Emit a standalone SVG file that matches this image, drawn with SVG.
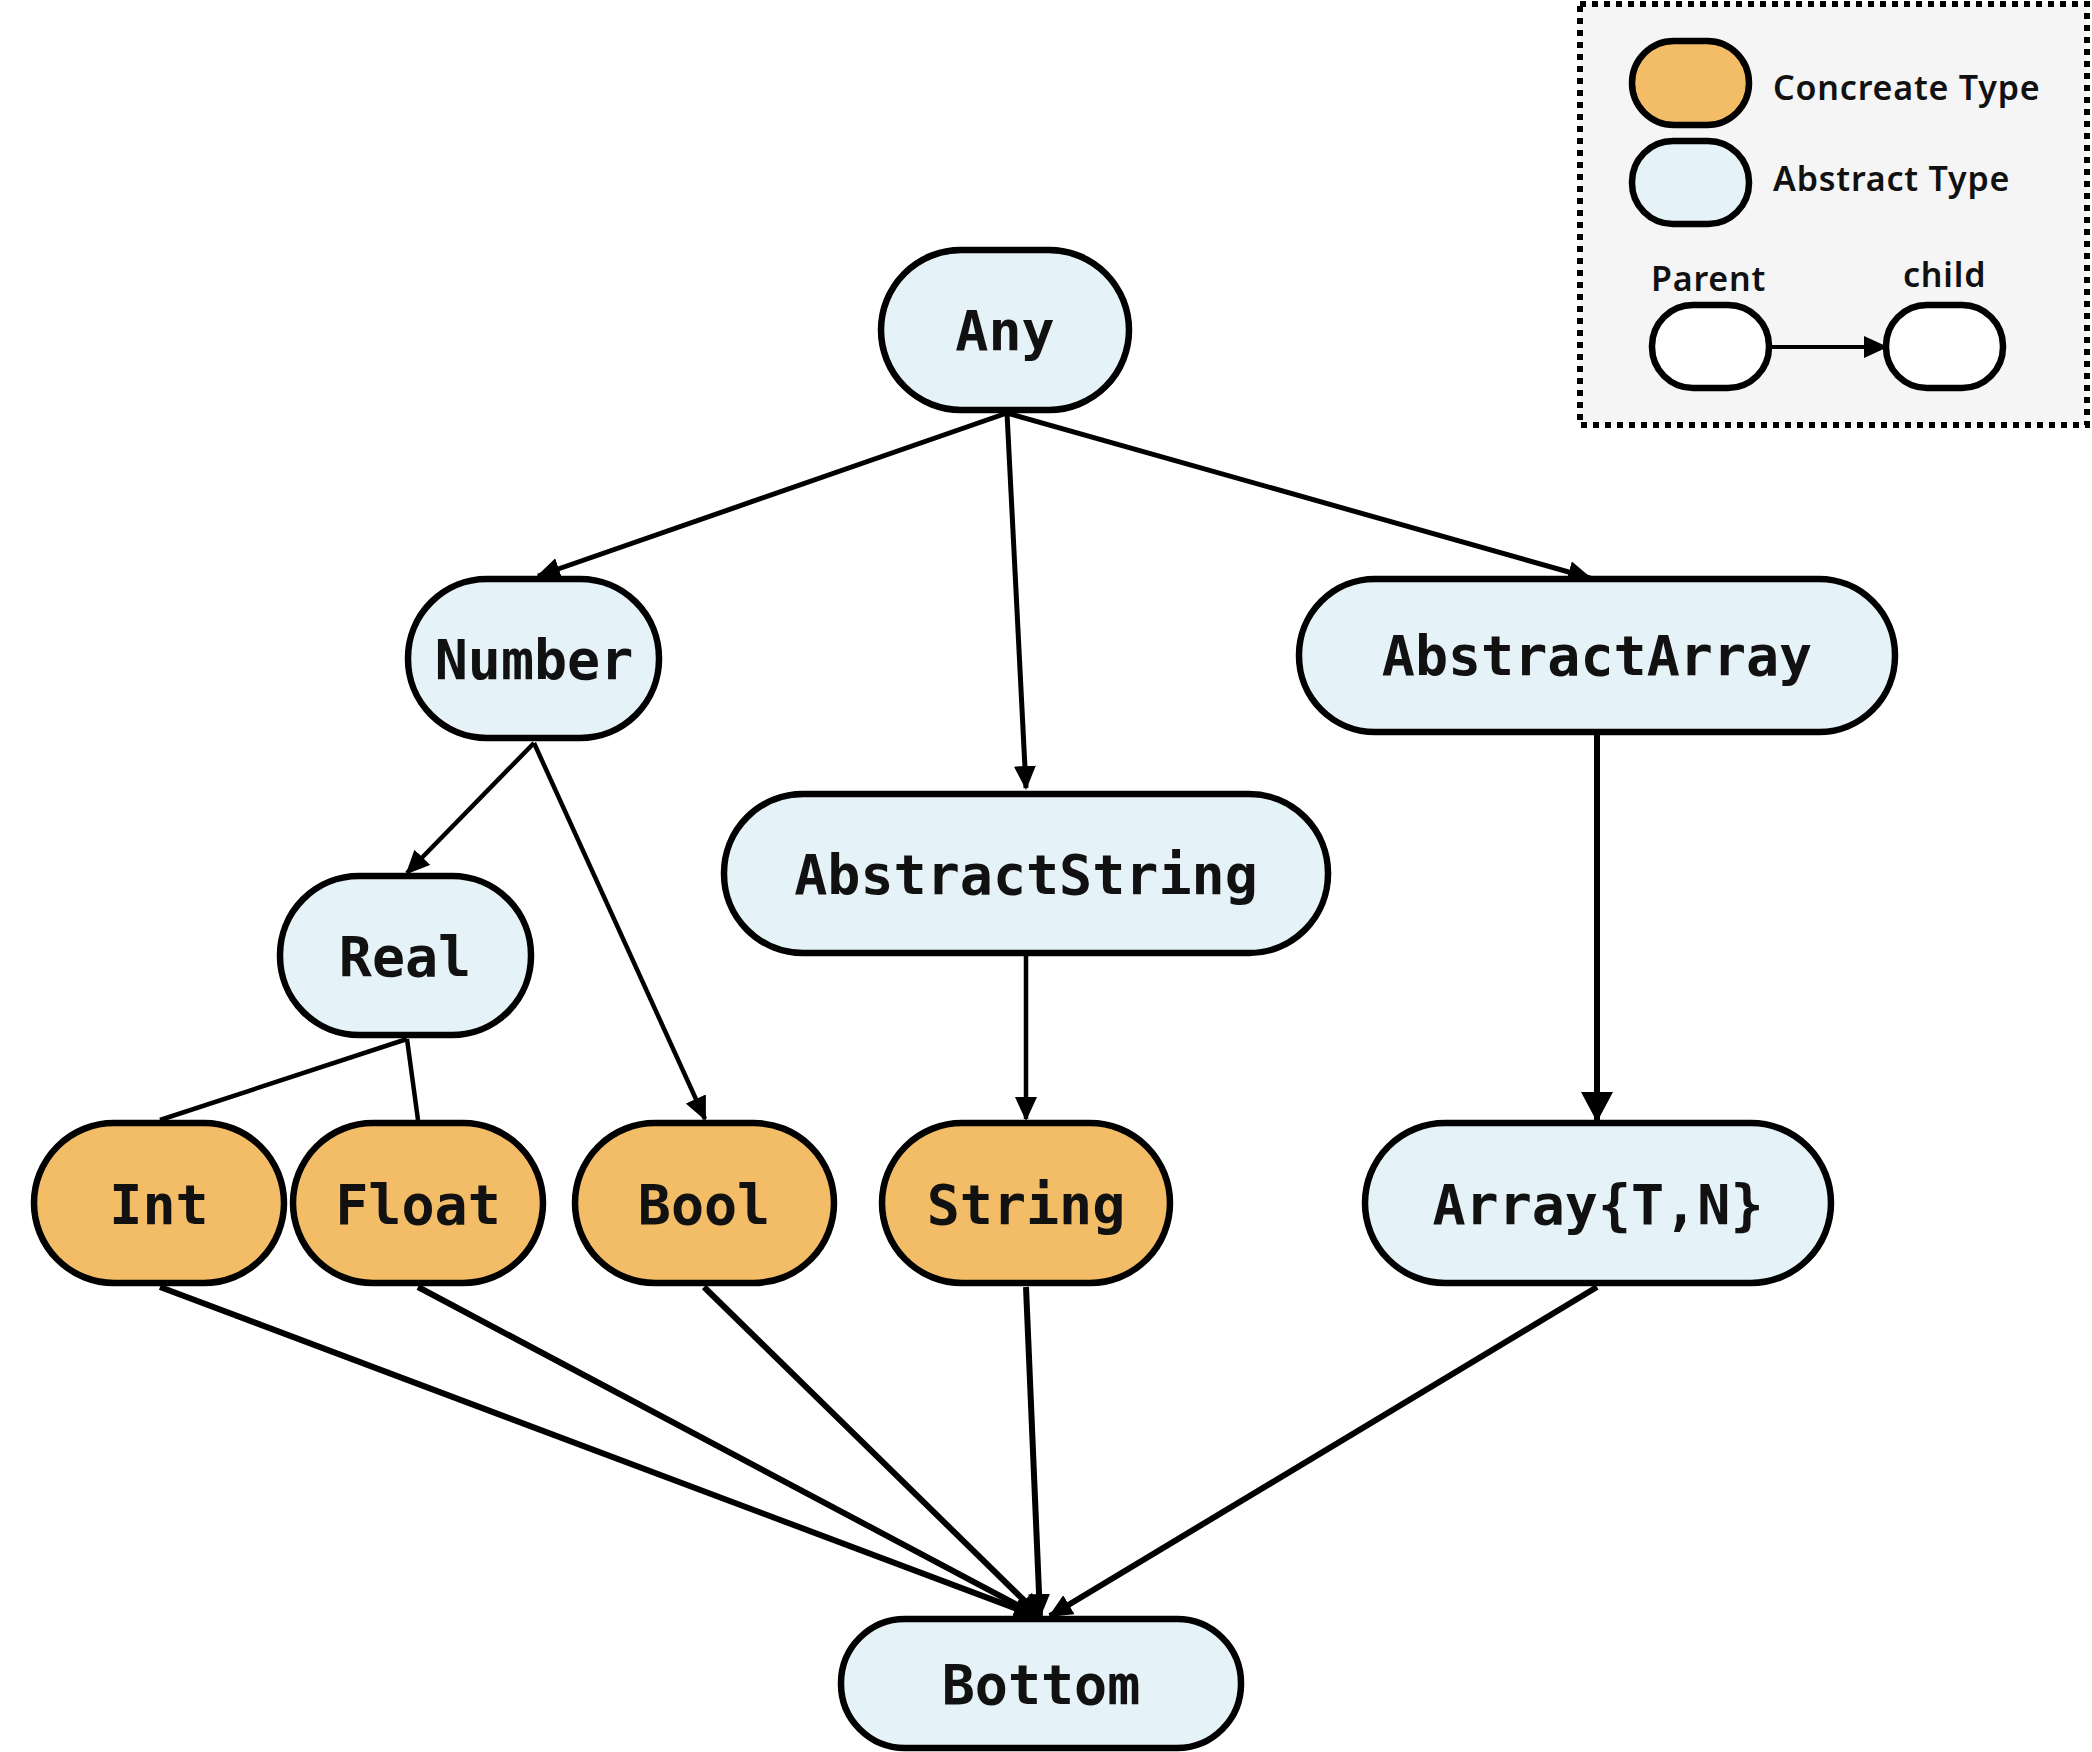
<svg xmlns="http://www.w3.org/2000/svg" width="2092" height="1752" viewBox="0 0 2092 1752">
<style>
.abs{fill:#e5f2f7;stroke:#000;stroke-width:6.5}
.con{fill:#f2bd66;stroke:#000;stroke-width:6.5}
.blank{fill:#fff;stroke:#000;stroke-width:6.5}
.lbl{font-family:"DejaVu Sans Mono","Liberation Mono",monospace;font-weight:bold;font-size:55px;fill:#111;text-anchor:middle}
.leg{font-family:"Noto Sans","Open Sans",sans-serif;font-weight:600;font-size:34px;letter-spacing:0.8px;fill:#111}
.e{stroke:#000;stroke-width:5;fill:none}
.et{stroke:#000;stroke-width:4.5;fill:none}
.eb{stroke:#000;stroke-width:6;fill:none}
</style>
<defs>
<marker id="ah" markerUnits="userSpaceOnUse" markerWidth="24" markerHeight="22" refX="22" refY="11" orient="auto">
<path d="M0,0 L24,11 L0,22 z" fill="#000"/>
</marker>
<marker id="ahb" markerUnits="userSpaceOnUse" markerWidth="30" markerHeight="32" refX="28" refY="16" orient="auto">
<path d="M0,0 L30,16 L0,32 z" fill="#000"/>
</marker>
</defs>
<rect width="2092" height="1752" fill="#fff"/>

<g id="legend">
<rect x="1580" y="4" width="507" height="421" fill="#f5f5f5" stroke="#000" stroke-width="6" stroke-dasharray="6 6"/>
<rect class="con" x="1632" y="41" width="117" height="84" rx="42"/>
<text class="leg" x="1773" y="100">Concreate Type</text>
<rect class="abs" x="1632" y="141" width="117" height="83" rx="41"/>
<text class="leg" x="1773" y="191">Abstract Type</text>
<text class="leg" x="1651" y="291">Parent</text>
<text class="leg" x="1903" y="287">child</text>
<rect class="blank" x="1652" y="305" width="117" height="83" rx="41"/>
<rect class="blank" x="1886" y="305" width="117" height="83" rx="41"/>
<line x1="1770" y1="347" x2="1886" y2="347" stroke="#000" stroke-width="4" marker-end="url(#ah)"/>
</g>

<g id="connectors">
<line class="e" x1="1007" y1="413" x2="538" y2="576" marker-end="url(#ah)"/>
<line class="e" x1="1007" y1="413" x2="1026" y2="788" marker-end="url(#ah)"/>
<line class="e" x1="1007" y1="413" x2="1590" y2="578" marker-end="url(#ah)"/>
<line class="et" x1="534" y1="743" x2="407" y2="873" marker-end="url(#ah)"/>
<line class="et" x1="534" y1="743" x2="705" y2="1119" marker-end="url(#ah)"/>
<line class="et" x1="407" y1="1039" x2="160" y2="1120"/>
<line class="et" x1="407" y1="1039" x2="418" y2="1120"/>
<line class="et" x1="1026" y1="955" x2="1026" y2="1119" marker-end="url(#ah)"/>
<line class="eb" x1="1597" y1="735" x2="1597" y2="1120" marker-end="url(#ahb)"/>
<line class="eb" x1="160" y1="1287" x2="1036" y2="1616" marker-end="url(#ah)"/>
<line class="eb" x1="418" y1="1287" x2="1038" y2="1616" marker-end="url(#ah)"/>
<line class="eb" x1="704" y1="1287" x2="1040" y2="1616" marker-end="url(#ah)"/>
<line class="eb" x1="1026" y1="1287" x2="1040" y2="1616" marker-end="url(#ah)"/>
<line class="eb" x1="1597" y1="1287" x2="1050" y2="1616" marker-end="url(#ah)"/>
</g>

<g id="node-any"><rect class="abs" x="881" y="250" width="248" height="160" rx="80"/><text class="lbl" x="1005" y="350">Any</text></g>
<g id="node-number"><rect class="abs" x="408" y="579" width="251" height="159" rx="79"/><text class="lbl" x="534" y="679">Number</text></g>
<g id="node-abstractarray"><rect class="abs" x="1299" y="579" width="596" height="153" rx="76"/><text class="lbl" x="1597" y="675">AbstractArray</text></g>
<g id="node-abstractstring"><rect class="abs" x="724" y="794" width="604" height="159" rx="79"/><text class="lbl" x="1026" y="894">AbstractString</text></g>
<g id="node-real"><rect class="abs" x="280" y="876" width="251" height="159" rx="79"/><text class="lbl" x="405" y="976">Real</text></g>
<g id="node-int"><rect class="con" x="34" y="1123" width="250" height="160" rx="80"/><text class="lbl" x="159" y="1224">Int</text></g>
<g id="node-float"><rect class="con" x="293" y="1123" width="250" height="160" rx="80"/><text class="lbl" x="418" y="1224">Float</text></g>
<g id="node-bool"><rect class="con" x="575" y="1123" width="259" height="160" rx="80"/><text class="lbl" x="704" y="1224">Bool</text></g>
<g id="node-string"><rect class="con" x="882" y="1123" width="288" height="160" rx="80"/><text class="lbl" x="1026" y="1224">String</text></g>
<g id="node-array"><rect class="abs" x="1365" y="1123" width="466" height="160" rx="80"/><text class="lbl" x="1598" y="1224">Array{T,N}</text></g>
<g id="node-bottom"><rect class="abs" x="841" y="1619" width="400" height="129" rx="64"/><text class="lbl" x="1041" y="1704">Bottom</text></g>
</svg>
